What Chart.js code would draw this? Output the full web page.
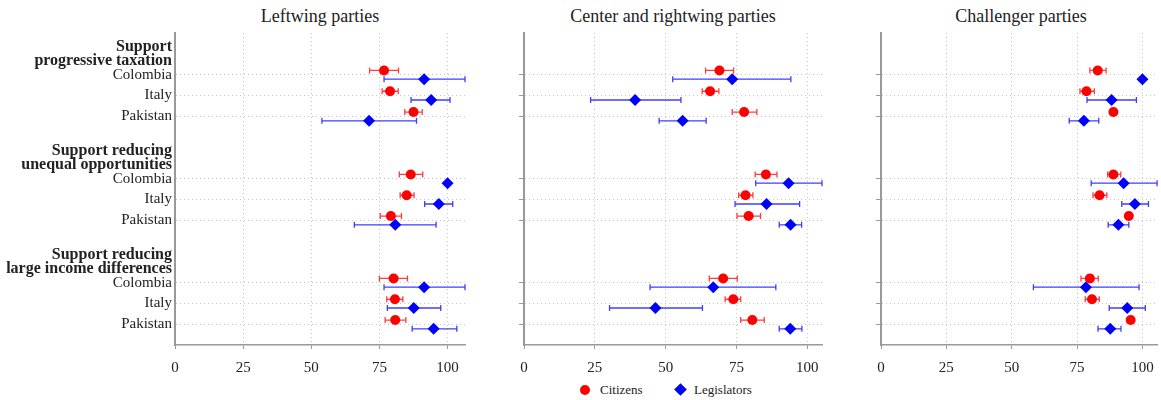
<!DOCTYPE html>
<html>
<head>
<meta charset="utf-8">
<script src="https://cdn.jsdelivr.net/npm/chart.js@4.4.0/dist/chart.umd.min.js"></script>
<style>
  body { margin: 0; background: #fff; width: 1161px; height: 400px; position: relative; overflow: hidden; font-family: "Liberation Serif", serif; color: #222; }
  canvas { position: absolute; top: 0; }
  .ttl { position: absolute; top: 6px; width: 320px; font-size: 18px; line-height: 21px; text-align: center; }
  .lg { position: absolute; font-size: 13px; line-height: 16px; }
  .dot { position: absolute; width: 10px; height: 10px; border-radius: 50%; background: #ff0000; }
  .dia { position: absolute; width: 9px; height: 9px; background: #0000ff; transform: rotate(45deg); }
</style>
</head>
<body>
<div class="ttl" style="left:160px">Leftwing parties</div>
<div class="ttl" style="left:513px">Center and rightwing parties</div>
<div class="ttl" style="left:861px">Challenger parties</div>
<canvas id="left" width="475" height="380" style="left:0px"></canvas>
<canvas id="center" width="327" height="380" style="left:505px"></canvas>
<canvas id="chall" width="302" height="380" style="left:862px"></canvas>
<div class="dot" style="left:580px; top:385px"></div>
<div class="lg" style="left:600px; top:382px">Citizens</div>
<div class="dia" style="left:676px; top:385px"></div>
<div class="lg" style="left:694px; top:382px">Legislators</div>
<script>
// rows: question header, then the three countries
var questions = [
  ["Support", "progressive taxation"],
  ["Support reducing", "unequal opportunities"],
  ["Support reducing", "large income differences"]
];
var countries = ["Colombia", "Italy", "Pakistan"];
var xTicks = [0, 25, 50, 75, 100];

// values in order: taxation (Col, Ita, Pak), opportunities (...), income differences (...)
var leftCit   = [76.7, 78.9, 87.5, 86.5, 85.0, 79.2, 80.2, 80.7, 80.8];
var leftCitLo = [71.4, 76.0, 84.3, 82.3, 82.6, 75.3, 75.0, 77.7, 77.1];
var leftCitHi = [82.0, 81.9, 90.7, 90.9, 87.7, 83.1, 85.3, 83.6, 84.7];
var leftLeg   = [91.4, 94.0, 71.2, 100, 96.8, 80.8, 91.4, 87.6, 94.9];
var leftLegLo = [76.7, 86.6, 53.9, 100, 91.6, 65.8, 76.7, 77.9, 87.0];
var leftLegHi = [110, 100.9, 88.6, 100, 101.9, 95.8, 110, 97.5, 103.4];

var centCit   = [69.0, 65.7, 77.7, 85.4, 78.2, 79.3, 70.3, 73.9, 80.6];
var centCitLo = [64.1, 62.9, 73.5, 81.6, 75.8, 75.2, 65.4, 71.0, 76.5];
var centCitHi = [74.0, 68.8, 82.2, 89.3, 80.8, 83.5, 75.3, 76.5, 84.8];
var centLeg   = [73.5, 39.2, 56.0, 93.4, 85.6, 94.1, 66.8, 46.4, 94.0];
var centLegLo = [52.5, 23.5, 47.7, 81.8, 74.5, 90.1, 44.5, 30.2, 90.1];
var centLegHi = [94.2, 55.4, 64.3, 110, 97.3, 98.0, 88.9, 63.0, 98.1];

var chalCit   = [82.9, 78.6, 88.9, 88.9, 83.6, 94.8, 79.9, 80.7, 95.5];
var chalCitLo = [79.9, 76.1, 88.9, 86.7, 81.1, 94.8, 76.5, 78.1, 95.5];
var chalCitHi = [86.1, 81.6, 88.9, 91.7, 86.4, 94.8, 83.1, 83.5, 95.5];
var chalLeg   = [100, 88.2, 77.6, 92.8, 97.1, 90.8, 78.4, 94.2, 87.7];
var chalLegLo = [100, 78.8, 72.0, 80.4, 92.1, 86.9, 58.3, 87.3, 83.0];
var chalLegHi = [100, 97.7, 83.3, 110, 102.3, 94.8, 98.7, 101.1, 91.8];

var FONT = "'Liberation Serif', serif";

// row positions on the y scale
var headerRows = [];
var countryRows = [];
var rowLabels = {};
questions.forEach(function (q, qi) {
  headerRows.push(qi * 5 + 1);
  rowLabels[qi * 5 + 1] = q;
  countries.forEach(function (c, ci) {
    countryRows.push(qi * 5 + 2 + ci);
    rowLabels[qi * 5 + 2 + ci] = c;
  });
});
var allRows = headerRows.concat(countryRows).sort(function (a, b) { return a - b; });

function toPoints(vals, shift) {
  return vals.map(function (v, i) {
    return { x: v, y: countryRows[i] + shift };
  });
}

// confidence intervals drawn under the markers
var errorBars = {
  id: "errorBars",
  beforeDatasetsDraw: function (chart) {
    var ctx = chart.ctx;
    var xs = chart.scales.x;
    var ys = chart.scales.y;
    chart.data.datasets.forEach(function (ds) {
      ds.data.forEach(function (p, i) {
        var lo = ds.lo[i], hi = ds.hi[i];
        if (hi - lo < 0.5) return;
        var y = ys.getPixelForValue(p.y);
        var x1 = xs.getPixelForValue(Math.max(lo, xs.min));
        var x2 = xs.getPixelForValue(Math.min(hi, xs.max));
        ctx.save();
        ctx.strokeStyle = ds.barColor;
        ctx.lineWidth = 1.3;
        ctx.beginPath();
        ctx.moveTo(x1, y); ctx.lineTo(x2, y);
        ctx.moveTo(x1, y - 3); ctx.lineTo(x1, y + 3);
        ctx.moveTo(x2, y - 3); ctx.lineTo(x2, y + 3);
        ctx.stroke();
        ctx.restore();
      });
    });
  }
};

function makePanel(id, cit, citLo, citHi, leg, legLo, legHi, xMax, yWidth, showLabels, padRight) {
  var ctx = document.getElementById(id).getContext("2d");
  return new Chart(ctx, {
    type: "scatter",
    data: {
      datasets: [
        {
          label: "Citizens",
          data: toPoints(cit, -0.2),
          lo: citLo, hi: citHi,
          barColor: "rgba(255, 40, 40, 0.9)",
          pointStyle: "circle",
          pointRadius: 5,
          pointBorderWidth: 0,
          backgroundColor: "#ff0000",
          borderColor: "#ff0000"
        },
        {
          label: "Legislators",
          data: toPoints(leg, 0.22),
          lo: legLo, hi: legHi,
          barColor: "rgba(40, 40, 255, 0.9)",
          pointStyle: "rectRot",
          pointRadius: 6,
          pointBorderWidth: 0,
          backgroundColor: "#0000ff",
          borderColor: "#0000ff"
        }
      ]
    },
    options: {
      responsive: false,
      animation: false,
      layout: { padding: { top: 33, right: padRight, left: 0, bottom: 0 } },
      plugins: { legend: { display: false }, tooltip: { enabled: false } },
      scales: {
        x: {
          type: "linear",
          min: 0,
          max: xMax,
          afterBuildTicks: function (s) {
            s.ticks = xTicks.map(function (v) { return { value: v }; });
          },
          afterFit: function (s) { s.height = 35; },
          border: { color: "#999", width: 1.5, dash: [1, 3] },
          grid: {
            color: function (c) { return c.tick && c.tick.value > 0 ? "#c8c8c8" : "rgba(0,0,0,0)"; },
            tickColor: "#999",
            tickLength: 4,
            lineWidth: 1
          },
          ticks: {
            color: "#222",
            padding: 10,
            maxRotation: 0,
            autoSkip: false,
            font: { family: FONT, size: 15 }
          }
        },
        y: {
          type: "linear",
          min: 0,
          max: 15,
          reverse: true,
          afterBuildTicks: function (s) {
            s.ticks = allRows.map(function (v) { return { value: v }; });
          },
          afterFit: function (s) { s.width = yWidth; },
          border: { color: "#999", width: 2, dash: [1, 3] },
          grid: {
            color: function (c) { return c.tick && countryRows.indexOf(c.tick.value) >= 0 ? "#c8c8c8" : "rgba(0,0,0,0)"; },
            tickColor: function (c) { return c.tick && countryRows.indexOf(c.tick.value) >= 0 ? "#999" : "rgba(0,0,0,0)"; },
            drawTicks: !showLabels,
            tickLength: 5
          },
          ticks: {
            display: showLabels,
            autoSkip: false,
            padding: 3,
            color: "#222",
            callback: function (v) { return rowLabels[v] || ""; },
            font: function (c) {
              var head = c.tick && headerRows.indexOf(c.tick.value) >= 0;
              return head
                ? { family: FONT, size: 16, weight: "bold", lineHeight: 0.9 }
                : { family: FONT, size: 15, weight: "normal", lineHeight: 1.0 };
            }
          }
        }
      }
    },
    plugins: [errorBars]
  });
}

makePanel("left", leftCit, leftCitLo, leftCitHi, leftLeg, leftLegLo, leftLegHi, 106.4, 175, true, 10);
makePanel("center", centCit, centCitLo, centCitHi, centLeg, centLegLo, centLegHi, 105.2, 19, false, 10);
makePanel("chall", chalCit, chalCitLo, chalCitHi, chalLeg, chalLegLo, chalLegHi, 105.6, 19, false, 0);
</script>
</body>
</html>
